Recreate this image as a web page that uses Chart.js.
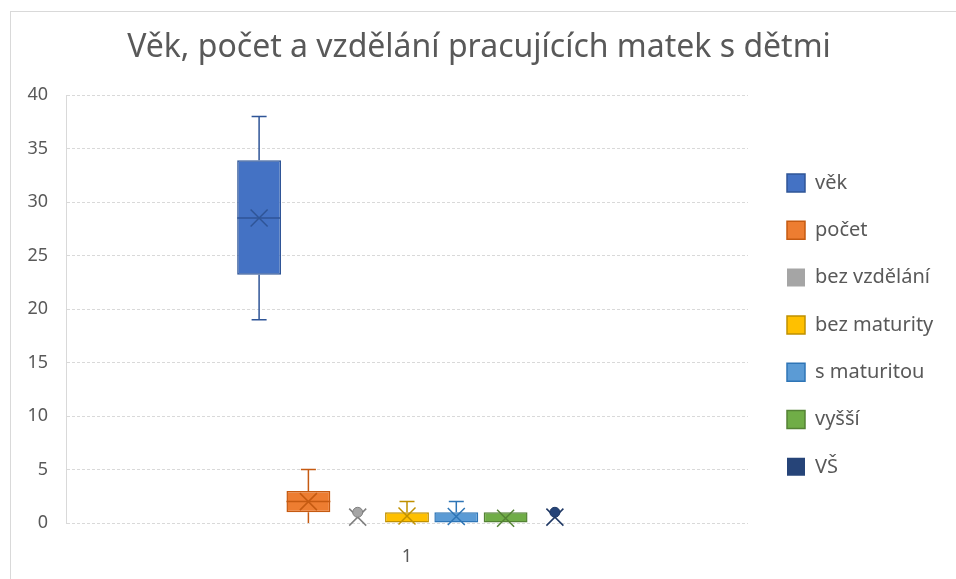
<!DOCTYPE html>
<html>
<head>
<meta charset="utf-8">
<script src="https://cdn.jsdelivr.net/npm/chart.js@4.4.1/dist/chart.umd.min.js"></script>
<style>
  html, body { margin: 0; padding: 0; background: #fff; }
  #frame { position: absolute; left: 10px; top: 11px; width: 960px; height: 620px; border: 1px solid #d9d9d9; box-sizing: border-box; }
  #wrap { position: absolute; left: 0; top: 0; width: 956px; height: 579px; }
</style>
</head>
<body>
<div id="frame"></div>
<div id="wrap"><canvas id="c" width="956" height="579"></canvas></div>
<script>
// ---- data ----
const categories = ['1'];
const seriesNames = ['věk', 'počet', 'bez vzdělání', 'bez maturity', 's maturitou', 'vyšší', 'VŠ'];
const minValues    = [19,   0, 0,   0,   0,   0,   0];
const q1Values     = [23.2, 1, 0,   0,   0,   0,   0];
const medianValues = [28.5, 2, 0,   0,   0,   0,   0];
const q3Values     = [33.9, 3, 0,   1,   1,   1,   0];
const maxValues    = [38,   5, 0,   2,   2,   1,   0];
const meanValues   = [28.5, 2, 0.55, 0.65, 0.6, 0.45, 0.55];
const outlierValues = [[], [], [1], [], [], [], [1]];
const yTicks = [0, 5, 10, 15, 20, 25, 30, 35, 40];

const fillColors   = ['#4472C4', '#ED7D31', '#A5A5A5', '#FFC000', '#5B9BD5', '#70AD47', '#264478'];
const strokeColors = ['#2F5597', '#C55A11', '#7F7F7F', '#BF9000', '#2E75B6', '#548235', '#1F3864'];

const datasets = seriesNames.map((name, i) => ({
  label: name,
  data: [[q1Values[i], q3Values[i]]],
  backgroundColor: fillColors[i],
  borderColor: strokeColors[i],
  borderWidth: q3Values[i] > q1Values[i] ? 1.5 : 0,
  borderSkipped: false,
  categoryPercentage: 0.506,
  barPercentage: 0.89
}));

const boxPlugin = {
  id: 'boxWhisker',
  beforeUpdate(chart) {
    const lg = chart.legend;
    if (lg && !lg._patched) {
      const orig = lg.fit;
      lg.fit = function () { orig.call(this); if (!this.isHorizontal()) this.width = 200; };
      lg._patched = true;
    }
  },
  afterLayout(chart) {
    const lg = chart.legend;
    if (!lg || !lg.columnSizes) return;
    const pad = lg.options.labels.padding;
    const dx = 787 - pad - lg.left;
    lg.left += dx; lg.right += dx;
    const colH = lg.columnSizes[0].height;
    const cur = (lg.top + lg.bottom + pad - colH) / 2;
    const dy = 173 - cur;
    lg.top += dy; lg.bottom += dy;
  },
  afterDatasetsDraw(chart) {
    const ctx = chart.ctx;
    const ys = chart.scales.y;
    ctx.save();
    seriesNames.forEach((name, i) => {
      const el = chart.getDatasetMeta(i).data[0];
      if (!el) return;
      const x = el.x;
      const w = el.width;
      const col = strokeColors[i];
      const yMin = ys.getPixelForValue(minValues[i]);
      const yQ1 = ys.getPixelForValue(q1Values[i]);
      const yQ3 = ys.getPixelForValue(q3Values[i]);
      const yMax = ys.getPixelForValue(maxValues[i]);
      const cap = 7.5;
      ctx.strokeStyle = col;
      ctx.lineWidth = 1.5;
      ctx.beginPath();
      if (maxValues[i] > q3Values[i]) {
        ctx.moveTo(x, yQ3); ctx.lineTo(x, yMax);
        ctx.moveTo(x - cap, yMax); ctx.lineTo(x + cap, yMax);
      }
      if (minValues[i] < q1Values[i]) {
        ctx.moveTo(x, yQ1); ctx.lineTo(x, yMin);
        if (minValues[i] > ys.min) { ctx.moveTo(x - cap, yMin); ctx.lineTo(x + cap, yMin); }
      }
      ctx.stroke();
      // median
      if (medianValues[i] > q1Values[i] && medianValues[i] < q3Values[i]) {
        const yMed = ys.getPixelForValue(medianValues[i]);
        ctx.beginPath();
        ctx.moveTo(x - w / 2, yMed); ctx.lineTo(x + w / 2, yMed);
        ctx.stroke();
      }
      // mean marker (X)
      const yMean = ys.getPixelForValue(meanValues[i]);
      const r = 8.5;
      ctx.beginPath();
      ctx.moveTo(x - r, yMean - r); ctx.lineTo(x + r, yMean + r);
      ctx.moveTo(x + r, yMean - r); ctx.lineTo(x - r, yMean + r);
      ctx.stroke();
      // outliers
      outlierValues[i].forEach(v => {
        const yo = ys.getPixelForValue(v);
        ctx.beginPath();
        ctx.arc(x, yo, 5, 0, Math.PI * 2);
        ctx.fillStyle = fillColors[i];
        ctx.fill();
        ctx.lineWidth = 1;
        ctx.stroke();
      });
    });
    ctx.restore();
  }
};

new Chart(document.getElementById('c'), {
  type: 'bar',
  data: { labels: categories, datasets: datasets },
  options: {
    responsive: false,
    animation: false,
    devicePixelRatio: 1,
    layout: { padding: { left: 10, right: 8, top: 0, bottom: 11 } },
    plugins: {
      tooltip: { enabled: false },
      title: {
        display: true,
        text: 'Věk, počet a vzdělání pracujících matek s dětmi',
        color: '#595959',
        font: { family: '"Noto Sans", sans-serif', size: 32, weight: 'normal' },
        padding: { top: 29, bottom: 27.6 }
      },
      legend: {
        position: 'right',
        align: 'center',
        labels: {
          color: '#595959',
          font: { family: '"Noto Sans", sans-serif', size: 20 },
          boxWidth: 18,
          boxHeight: 18,
          padding: 27.3
        }
      }
    },
    scales: {
      x: {
        afterFit(scale) { scale.height = 45; },
        grid: { display: false, drawTicks: false },
        border: { display: false },
        ticks: { color: '#595959', font: { family: '"Noto Sans", sans-serif', size: 18 }, padding: 23 }
      },
      y: {
        min: 0,
        max: 40,
        afterFit(scale) { scale.width = 56; },
        afterBuildTicks(scale) { scale.ticks = yTicks.map(v => ({ value: v })); },
        grid: { color: '#d9d9d9', lineWidth: 1, drawTicks: false },
        border: { display: true, color: '#d9d9d9', dash: [3, 2] },
        ticks: { color: '#595959', font: { family: '"Noto Sans", sans-serif', size: 18 }, padding: 18 }
      }
    }
  },
  plugins: [boxPlugin]
});
</script>
</body>
</html>
